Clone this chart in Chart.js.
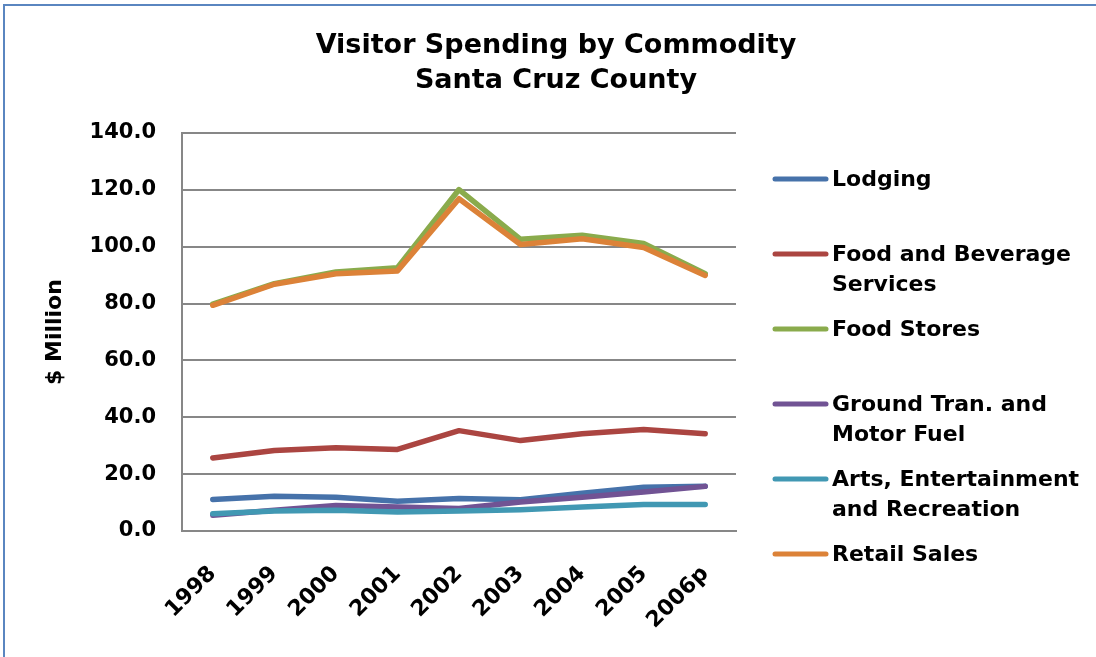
<!DOCTYPE html>
<html>
<head>
<meta charset="utf-8">
<script src="https://cdn.jsdelivr.net/npm/chart.js@4.4.0/dist/chart.umd.min.js"></script>
<style>
  html, body { margin: 0; padding: 0; background: #fff; overflow: hidden; }
  #wrap { position: relative; width: 1096px; height: 657px; }
</style>
</head>
<body>
<div id="wrap"><canvas id="chart" width="1096" height="657"></canvas></div>
<script>
// data ($ million)
const years = ['1998', '1999', '2000', '2001', '2002', '2003', '2004', '2005', '2006p'];
const lodging    = [11.1, 12.2, 11.9, 10.5, 11.4, 11.0, 13.3, 15.4, 15.7];
const foodBev    = [25.7, 28.3, 29.3, 28.7, 35.3, 31.8, 34.2, 35.7, 34.2];
const foodStores = [79.8, 87.0, 91.1, 92.6, 120.1, 102.6, 104.0, 101.1, 90.5];
const groundTran = [5.5, 7.3, 9.0, 8.4, 7.9, 10.2, 11.9, 13.7, 15.7];
const arts       = [6.1, 7.0, 7.3, 6.7, 7.0, 7.5, 8.4, 9.3, 9.3];
const retail     = [79.4, 86.8, 90.5, 91.5, 116.9, 100.8, 102.8, 99.7, 89.9];

const seriesNames = [
  ['Lodging'],
  ['Food and Beverage', 'Services'],
  ['Food Stores'],
  ['Ground Tran. and', 'Motor Fuel'],
  ['Arts, Entertainment', 'and Recreation'],
  ['Retail Sales']
];
const seriesValues = [lodging, foodBev, foodStores, groundTran, arts, retail];
const seriesColors = ['#4672aa', '#ab4541', '#8aab4c', '#715394', '#4198b3', '#dc8238'];
const titleLines = ['Visitor Spending by Commodity', 'Santa Cruz County'];
const yAxisTitle = '$ Million';

const FONT = '"DejaVu Sans", sans-serif';

// legend rows (y of each text line) in canvas px
const legendRows = [[180], [255, 285], [330], [405, 435], [480, 510], [555]];

const decor = {
  id: 'decor',
  beforeDraw(chart) {
    const ctx = chart.ctx;
    ctx.save();
    ctx.fillStyle = '#fff';
    ctx.fillRect(0, 0, chart.width, chart.height);
    ctx.strokeStyle = '#5a86c0';
    ctx.lineWidth = 2;
    ctx.beginPath();
    ctx.moveTo(4, chart.height);
    ctx.lineTo(4, 5);
    ctx.lineTo(chart.width, 5);
    ctx.stroke();
    ctx.restore();
  },
  afterDraw(chart) {
    const ctx = chart.ctx;
    ctx.save();
    // title
    ctx.fillStyle = '#000';
    ctx.font = 'bold 27px ' + FONT;
    ctx.textAlign = 'center';
    ctx.textBaseline = 'middle';
    ctx.fillText(titleLines[0], 556, 46);
    ctx.fillText(titleLines[1], 556, 81);
    // legend
    ctx.font = 'bold 22px ' + FONT;
    ctx.textAlign = 'left';
    chart.data.datasets.forEach((ds, i) => {
      const rows = legendRows[i];
      ctx.strokeStyle = ds.borderColor;
      ctx.lineWidth = 5;
      ctx.lineCap = 'round';
      ctx.beginPath();
      ctx.moveTo(775, rows[0] - 1);
      ctx.lineTo(826, rows[0] - 1);
      ctx.stroke();
      seriesNames[i].forEach((line, j) => {
        ctx.fillText(line, 832, rows[j]);
      });
    });
    ctx.restore();
  }
};

const datasets = seriesValues.map((vals, i) => ({
  label: seriesNames[i].join(' '),
  data: vals,
  borderColor: seriesColors[i],
  backgroundColor: seriesColors[i],
  borderWidth: 5.5,
  pointRadius: 0,
  tension: 0,
  borderCapStyle: 'round',
  borderJoinStyle: 'round',
  order: seriesValues.length - i
}));

new Chart(document.getElementById('chart'), {
  type: 'line',
  data: { labels: years, datasets: datasets },
  options: {
    responsive: false,
    animation: false,
    devicePixelRatio: 1,
    layout: { padding: { top: 133, right: 360, left: 0, bottom: 0 } },
    plugins: {
      legend: { display: false },
      title: { display: false },
      tooltip: { enabled: false }
    },
    scales: {
      x: {
        offset: true,
        grid: { display: false, drawTicks: false },
        border: { display: true, color: '#878787', width: 2 },
        ticks: {
          autoSkip: false,
          maxRotation: 45,
          minRotation: 45,
          padding: 30,
          color: '#000',
          font: { family: FONT, size: 22, weight: 'bold' }
        },
        afterFit(scale) { scale.height = 126; }
      },
      y: {
        min: 0,
        max: 140,
        ticks: {
          stepSize: 20,
          padding: 26,
          color: '#000',
          font: { family: FONT, size: 21, weight: 'bold' },
          callback: v => v.toFixed(1)
        },
        grid: { color: '#878787', lineWidth: 2, drawTicks: false },
        border: { display: true, color: '#878787', width: 2 },
        title: {
          display: true,
          text: yAxisTitle,
          color: '#000',
          font: { family: FONT, size: 22, weight: 'bold' },
          padding: { top: 42, bottom: 0 }
        },
        afterFit(scale) { scale.width = 182; }
      }
    }
  },
  plugins: [decor]
});
</script>
</body>
</html>
